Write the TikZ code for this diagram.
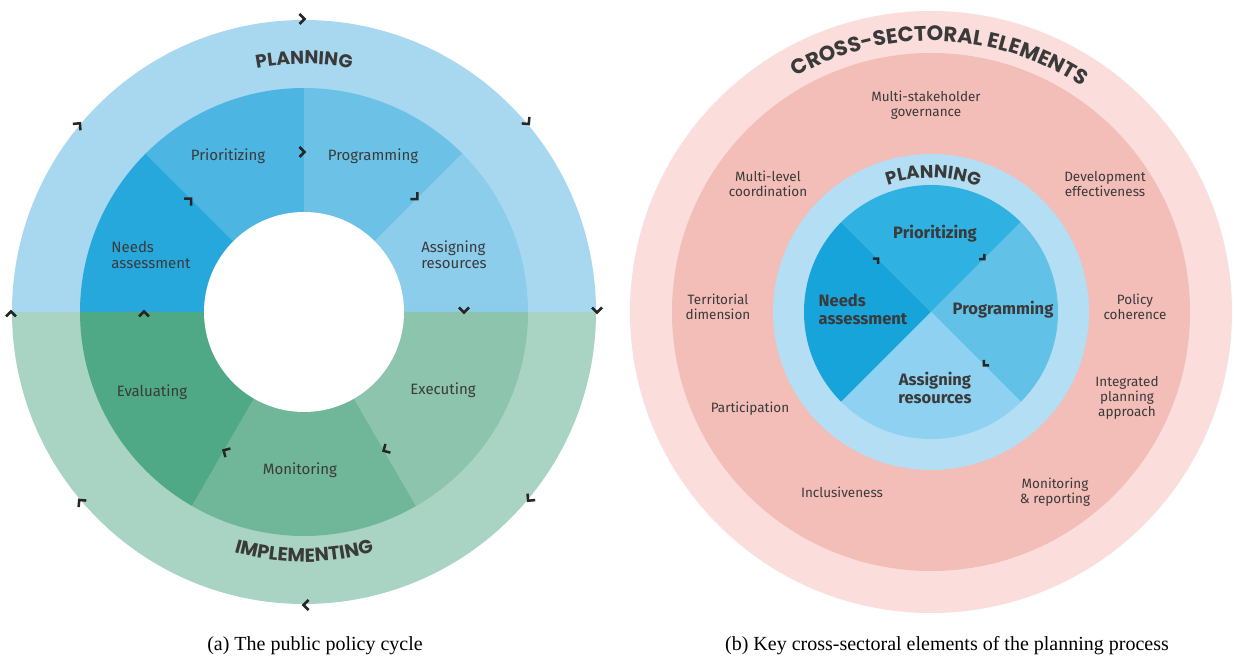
\documentclass[tikz,border=0pt]{standalone}
\usepackage{fontspec}
\setsansfont{Fira Sans}
\newfontfamily\headfont{Poppins}
\newfontfamily\capfont{Liberation Serif}
\usetikzlibrary{decorations.text}

\definecolor{planout}{HTML}{A8D8EF}
\definecolor{needs}{HTML}{27A8DC}
\definecolor{prior}{HTML}{4DB5E1}
\definecolor{progr}{HTML}{6CC2E6}
\definecolor{assign}{HTML}{8CCDEC}
\definecolor{implout}{HTML}{A9D4C4}
\definecolor{evalu}{HTML}{50A986}
\definecolor{monit}{HTML}{70B699}
\definecolor{execu}{HTML}{8DC4AD}
\definecolor{crossout}{HTML}{FBDEDB}
\definecolor{crossin}{HTML}{F3BDB8}
\definecolor{planring}{HTML}{B3DEF3}
\definecolor{rneeds}{HTML}{17A4DA}
\definecolor{rprior}{HTML}{2FB1E1}
\definecolor{rprogr}{HTML}{62C1E7}
\definecolor{rassign}{HTML}{8FD1F0}
\definecolor{txtgray}{HTML}{3A3A3A}
\definecolor{chevgray}{HTML}{262626}

\tikzset{
  lab/.style={draw=none,fill=none,inner sep=0pt,text=txtgray,
    font=\sffamily\fontsize{15}{16}\selectfont},
  smalllab/.style={lab,align=center,font=\sffamily\fontsize{13.5}{15}\selectfont},
  innerlab/.style={lab,font=\sffamily\bfseries\fontsize{16.5}{18}\selectfont},
  capt/.style={draw=none,fill=none,inner sep=0pt,anchor=base,
    font=\capfont\fontsize{20}{22}\selectfont},
  chevline/.style={draw=chevgray,line width=2.5pt},
  chev/.pic={\draw[chevline] (-4.5,5) -- (0.5,0) -- (-4.5,-5);},
}

\begin{document}
\begin{tikzpicture}[x=1pt,y=1pt]
\useasboundingbox[fill=white] (0,0) rectangle (1234,658);
\coordinate (lc) at (304,346);
\coordinate (rc) at (931,346);

% (a) the policy cycle
\begin{scope}[shift={(lc)}]
  \fill[planout] (0:292) arc[start angle=0,end angle=180,radius=292] -- cycle;
  \fill[implout] (180:292) arc[start angle=180,end angle=360,radius=292] -- cycle;
  \foreach \a/\b/\c in {135/180/needs,90/135/prior,45/90/progr,0/45/assign,
                        180/240/evalu,240/300/monit,300/360/execu}
    \fill[\c] (0,0) -- (\a:224) arc[start angle=\a,end angle=\b,radius=224] -- cycle;
  \fill[white] (0,0) circle[radius=100];

  \foreach \a in {0,40,90,140,180,220,270,320}
    \pic[rotate=\a-90] at (\a:293) {chev};
  \foreach \a in {0,45,90,135,180,240,300}
    \pic[rotate=\a-90] at (\a:160) {chev};

  \path[decorate,decoration={text along path,text align=center,
    text={|\headfont\bfseries\fontsize{18.5}{18.5}\selectfont\color{txtgray}|PLANNING}}]
    (130:248) arc[start angle=130,end angle=50,radius=248];
  \path[decorate,decoration={text along path,text align=center,
    text={|\headfont\bfseries\fontsize{19}{19}\selectfont\color{txtgray}|IMPLEMENTING}}]
    (225:250) arc[start angle=225,end angle=315,radius=250];

  \node[lab] (prioa) at (-76,156) {Prioritizing};
  \node[lab] (progra) at (69,156) {Programming};
  \node[lab,align=left] (needsa) at (-153,57) {Needs\\assessment};
  \node[lab,align=left] (assigna) at (150,57) {Assigning\\resources};
  \node[lab] (evala) at (-152,-80) {Evaluating};
  \node[lab] (execa) at (139,-78) {Executing};
  \node[lab] (monia) at (-4,-158) {Monitoring};
\end{scope}

% (b) cross-sectoral elements
\begin{scope}[shift={(rc)}]
  \fill[crossout] (0,0) circle[radius=301];
  \fill[crossin] (0,0) circle[radius=259];
  \fill[planring] (0,0) circle[radius=158];
  \foreach \a/\b/\c in {135/225/rneeds,45/135/rprior,-45/45/rprogr,225/315/rassign}
    \fill[\c] (0,0) -- (\a:127) arc[start angle=\a,end angle=\b,radius=127] -- cycle;

  \foreach \a in {45,135,315}
    \pic[rotate=\a-90,scale=0.75] at (\a:75) {chev};

  \path[decorate,decoration={text along path,text align=center,
    text={|\headfont\bfseries\fontsize{21}{21}\selectfont\color{txtgray}|CROSS-SECTORAL ELEMENTS}}]
    (148:271) arc[start angle=148,end angle=28,radius=271];
  \path[decorate,decoration={text along path,text align=center,
    text={|\headfont\bfseries\fontsize{18}{18}\selectfont\color{txtgray}|PLANNING}}]
    (154:134) arc[start angle=154,end angle=24,radius=134];

  \node[smalllab] (gov) at (-5,207) {Multi-stakeholder\\governance};
  \node[smalllab] (mlc) at (-163,128) {Multi-level\\coordination};
  \node[smalllab] (dev) at (174,128) {Development\\effectiveness};
  \node[smalllab] (terr) at (-213,5) {Territorial\\dimension};
  \node[smalllab] (coh) at (204,5) {Policy\\coherence};
  \node[smalllab] (part) at (-181,-97) {Participation};
  \node[smalllab] (integ) at (196,-86) {Integrated\\planning\\approach};
  \node[smalllab] (incl) at (-89,-180) {Inclusiveness};
  \node[smalllab] (monr) at (124,-180) {Monitoring\\\& reporting};

  \node[innerlab] (priob) at (4,78) {Prioritizing};
  \node[innerlab,align=left] (needsb) at (-68,3) {Needs\\assessment};
  \node[innerlab] (progrb) at (72,2) {Programming};
  \node[innerlab,align=center] (assignb) at (4,-76) {Assigning\\resources};
\end{scope}

\node[capt] (capa) at (315,7) {(a) The public policy cycle};
\node[capt] (capb) at (947,7) {(b) Key cross-sectoral elements of the planning process};
\end{tikzpicture}
\end{document}
